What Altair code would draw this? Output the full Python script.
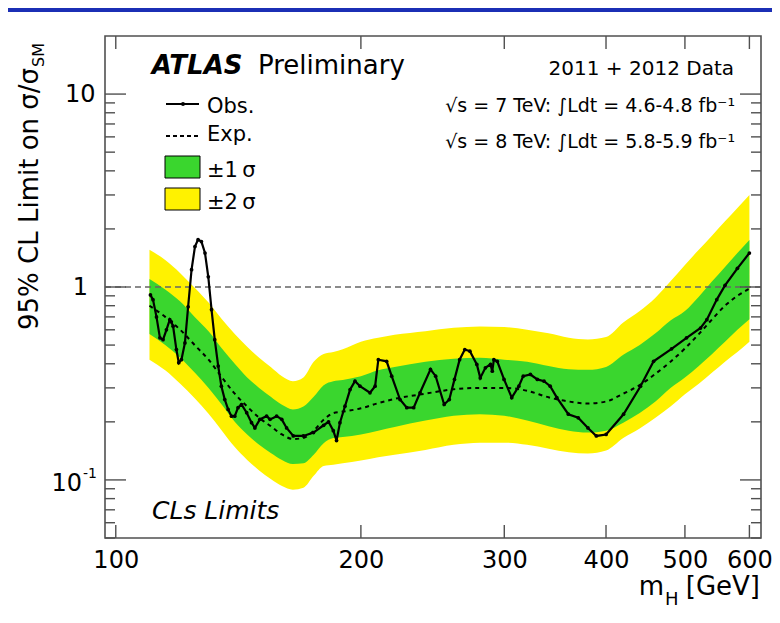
import altair as alt
import pandas as pd

# ---------------- data ----------------
mass = [110, 115, 120, 125, 130, 135, 140, 145, 150, 155, 160, 165, 170, 175, 180, 185, 190,
        200, 210, 220, 240, 260, 280, 300, 320, 340, 360, 380, 400, 420, 440, 460, 480, 500,
        520, 540, 560, 580, 600]
expected = [0.80, 0.70, 0.60, 0.50, 0.42, 0.34, 0.28, 0.24, 0.21, 0.19, 0.172, 0.163, 0.165, 0.18,
            0.205, 0.222, 0.226, 0.235, 0.25, 0.263, 0.28, 0.295, 0.30, 0.30, 0.29, 0.268, 0.255,
            0.249, 0.255, 0.28, 0.31, 0.355, 0.41, 0.48, 0.57, 0.68, 0.80, 0.90, 0.98]
green_lo = [0.57, 0.50, 0.43, 0.36, 0.30, 0.245, 0.20, 0.172, 0.152, 0.138, 0.127, 0.121, 0.122,
            0.135, 0.155, 0.165, 0.167, 0.172, 0.18, 0.188, 0.203, 0.215, 0.219, 0.215, 0.203, 0.19,
            0.18, 0.176, 0.18, 0.198, 0.222, 0.255, 0.30, 0.34, 0.39, 0.45, 0.52, 0.60, 0.68]
green_hi = [1.10, 0.97, 0.84, 0.70, 0.59, 0.48, 0.40, 0.34, 0.30, 0.27, 0.245, 0.232, 0.24, 0.27,
            0.31, 0.325, 0.33, 0.345, 0.37, 0.385, 0.41, 0.425, 0.43, 0.42, 0.41, 0.39, 0.375,
            0.372, 0.385, 0.445, 0.50, 0.575, 0.67, 0.75, 0.89, 1.07, 1.27, 1.50, 1.75]
yellow_lo = [0.42, 0.37, 0.315, 0.265, 0.22, 0.18, 0.148, 0.127, 0.112, 0.101, 0.093, 0.089, 0.091,
             0.105, 0.118, 0.12, 0.122, 0.126, 0.131, 0.135, 0.143, 0.152, 0.156, 0.156, 0.152,
             0.145, 0.139, 0.137, 0.142, 0.165, 0.185, 0.21, 0.24, 0.278, 0.315, 0.36, 0.41, 0.46,
             0.52]
yellow_hi = [1.56, 1.38, 1.18, 0.99, 0.83, 0.68, 0.57, 0.49, 0.43, 0.385, 0.345, 0.325, 0.34, 0.41,
             0.45, 0.46, 0.475, 0.52, 0.545, 0.565, 0.59, 0.615, 0.625, 0.62, 0.60, 0.575, 0.545,
             0.535, 0.55, 0.655, 0.75, 0.88, 1.07, 1.30, 1.56, 1.85, 2.19, 2.57, 3.0]

obs_mass = [110.3, 111.1, 112.2, 113.3, 114.3, 115.4, 116.5, 117.0, 117.6, 118.7, 119.5, 120.4,
            121.6, 122.7, 123.9, 125.1, 126.2, 127.4, 128.7, 129.9, 131.1, 132.3, 133.6, 134.8,
            136.1, 137.4, 138.7, 140.0, 141.3, 142.7, 144.8, 146.8, 148.2, 150.3, 153.2, 154.7,
            157.6, 159.9, 162.1, 165.2, 170.0, 174.9, 180.0, 182.5, 185.0, 186.7, 188.5, 191.2,
            194.0, 196.7, 199.5, 205.2, 208.2, 210.1, 215.1, 218.2, 223.4, 227.7, 232.2, 236.4,
            243.5, 247.1, 253.1, 256.8, 260.6, 264.4, 268.3, 272.2, 277.6, 280.3, 284.4, 288.5,
            290.0, 291.3, 294.1, 299.8, 306.4, 312.6, 316.5, 323.0, 329.4, 335.7, 341.6, 348.1,
            359.6, 369.8, 380.1, 389.2, 400.1, 420.3, 441.0, 457.6, 481.5, 502.3, 522.6, 532.0,
            547.1, 560.0, 580.0, 600.0]
obs_limit = [0.91, 0.86, 0.70, 0.545, 0.533, 0.60, 0.677, 0.66, 0.626, 0.474, 0.405, 0.42,
             0.513, 0.79, 1.23, 1.62, 1.76, 1.72, 1.50, 1.13, 0.763, 0.533, 0.389, 0.306,
             0.261, 0.232, 0.214, 0.214, 0.237, 0.246, 0.223, 0.198, 0.186, 0.206, 0.214, 0.206,
             0.214, 0.206, 0.186, 0.169, 0.169, 0.176, 0.192, 0.20, 0.18, 0.16, 0.198, 0.241,
             0.294, 0.325, 0.306, 0.283, 0.306, 0.42, 0.412, 0.345, 0.261, 0.237, 0.237, 0.283,
             0.374, 0.345, 0.246, 0.261, 0.332, 0.42, 0.474, 0.465, 0.397, 0.338, 0.381, 0.397,
             0.366, 0.42, 0.412, 0.332, 0.267, 0.306, 0.345, 0.352, 0.332, 0.325, 0.306, 0.267,
             0.219, 0.21, 0.186, 0.169, 0.172, 0.219, 0.306, 0.412, 0.478, 0.545, 0.613, 0.677,
             0.86, 1.02, 1.25, 1.50]

x_ticks = [100, 200, 300, 400, 500, 600]
y_major = [0.1, 1, 10]
y_minor = [0.05, 0.06, 0.07, 0.08, 0.09, 0.2, 0.3, 0.4, 0.5, 0.6, 0.7, 0.8, 0.9,
           2, 3, 4, 5, 6, 7, 8, 9]
y_labels = ["10", "1", "10"]     # 10^-1 shown as "10" + superscript "-1"
sm_line = [1.0]

# ---------------- layout ----------------
FONT = "DejaVu Sans"
W, H = 656, 502
X0, Y0 = 105, 36          # page position of plot-area origin
GREEN = "#3ad62e"
YELLOW = "#fff200"
FRAME = "#505050"


def px(x):
    return x - X0


def py(y):
    return y - Y0


band = pd.DataFrame(dict(m=mass, exp=expected, glo=green_lo, ghi=green_hi,
                         ylo=yellow_lo, yhi=yellow_hi))
obs = pd.DataFrame(dict(m=obs_mass, v=obs_limit))

xs = alt.Scale(type="log", domain=[97, 620], nice=False)
ys = alt.Scale(type="log", domain=[0.05, 20], nice=False)

x_axis = alt.Axis(values=x_ticks, ticks=False, tickSize=0, domain=False, grid=False,
                  labelFont=FONT, labelFontSize=24, labelColor="black", labelPadding=10,
                  title=None, format="d", labelFlush=False, labelOverlap=False)


def X(field):
    return alt.X(field, scale=xs, axis=x_axis)


def Y(field):
    return alt.Y(field, scale=ys, axis=None)


yellow = alt.Chart(band).mark_area(color=YELLOW, interpolate="monotone", opacity=1).encode(
    x=X("m:Q"), y=Y("ylo:Q"), y2="yhi:Q")
green = alt.Chart(band).mark_area(color=GREEN, interpolate="monotone", opacity=1).encode(
    x=X("m:Q"), y=Y("glo:Q"), y2="ghi:Q")
one_line = alt.Chart(pd.DataFrame({"v": sm_line})).mark_rule(
    color="#666666", strokeWidth=1.5, strokeDash=[6, 4]).encode(y=Y("v:Q"))
exp_line = alt.Chart(band).mark_line(color="black", strokeWidth=2, strokeDash=[4, 4],
                                     interpolate="monotone").encode(x=X("m:Q"), y=Y("exp:Q"))
obs_line = alt.Chart(obs).mark_line(color="black", strokeWidth=2.2).encode(
    x=X("m:Q"), y=Y("v:Q"))
obs_pts = alt.Chart(obs).mark_circle(color="black", size=14, opacity=1).encode(
    x=X("m:Q"), y=Y("v:Q"))


# inward ticks (ROOT style)
def yticks(vals, x1, x2):
    return alt.Chart(pd.DataFrame({"v": vals})).mark_rule(color=FRAME, strokeWidth=1.4).encode(
        y=Y("v:Q"), x=alt.value(x1), x2=alt.value(x2))


def xticks(vals, y1, y2):
    return alt.Chart(pd.DataFrame({"v": vals})).mark_rule(color=FRAME, strokeWidth=1.4).encode(
        x=X("v:Q"), y=alt.value(y1), y2=alt.value(y2))


ticks = [
    yticks(y_major, 0, 21), yticks(y_minor, 0, 10),
    yticks(y_major, W, W - 21), yticks(y_minor, W, W - 10),
    xticks(x_ticks, H, H - 13), xticks(x_ticks, 0, 13),
]


# y tick labels, placed through the y scale
def ylab(i, right_x, dy=0):
    d = pd.DataFrame({"v": [y_major[i]], "t": [y_labels[i]]})
    return alt.Chart(d).mark_text(align="right", baseline="middle", font=FONT, fontSize=24,
                                  color="black", dy=dy).encode(
        y=Y("v:Q"), x=alt.value(px(right_x)), text="t:N")


ylabels = [ylab(2, 95.5, 1), ylab(1, 88, 1), ylab(0, 82, 4)]


def txt(s, x, y, size, align="left", style="normal", weight="normal", angle=0, color="black"):
    return alt.Chart(pd.DataFrame({"t": [s]})).mark_text(
        align=align, baseline="alphabetic", font=FONT, fontSize=size, fontStyle=style,
        fontWeight=weight, angle=angle, color=color).encode(
        x=alt.value(px(x)), y=alt.value(py(y)), text="t:N")


def rule(x1, x2, y, dash=None, width=2):
    kw = dict(color="black", strokeWidth=width)
    if dash:
        kw["strokeDash"] = dash
    return alt.Chart(pd.DataFrame({"a": [0]})).mark_rule(**kw).encode(
        x=alt.value(px(x1)), x2=alt.value(px(x2)), y=alt.value(py(y)))


def box(x1, x2, y1, y2, fill):
    return alt.Chart(pd.DataFrame({"a": [0]})).mark_rect(
        fill=fill, stroke="black", strokeWidth=1).encode(
        x=alt.value(px(x1)), x2=alt.value(px(x2)), y=alt.value(py(y1)), y2=alt.value(py(y2)))


legend = [
    rule(166, 199, 104),
    alt.Chart(pd.DataFrame({"a": [0]})).mark_circle(color="black", size=16, opacity=1).encode(
        x=alt.value(px(183)), y=alt.value(py(104))),
    rule(166, 198, 136, dash=[4, 3], width=1.8),
    box(165, 200, 156, 178, GREEN),
    box(165, 200, 188, 210, YELLOW),
    txt("Obs.", 207, 112.5, 21),
    txt("Exp.", 207, 141, 21),
    txt("\u00b11\u2009\u03c3", 207, 177, 21),
    txt("\u00b12\u2009\u03c3", 207, 208.5, 21),
]

texts = [
    txt("ATLAS", 151.7, 74, 26, style="italic", weight="bold"),
    txt("Preliminary", 258, 74, 26),
    txt("2011 + 2012 Data", 734, 75, 20, align="right"),
    txt("\u221as = 7 TeV: \u222bLdt = 4.6-4.8 fb\u207b\u00b9", 735, 112, 19, align="right"),
    txt("\u221as = 8 TeV: \u222bLdt = 5.8-5.9 fb\u207b\u00b9", 735, 148, 19, align="right"),
    txt("CLs Limits", 152, 519, 25, style="italic"),
    # y-axis title (rotated) with subscript
    txt("95% CL Limit on \u03c3/\u03c3", 38, 330, 26, angle=270),
    txt("SM", 44, 67, 16, angle=270),
    # superscript of the 10^-1 label
    txt("-1", 83, 478, 14),
    # x-axis title with subscript
    txt("m", 664, 595, 26, align="right"),
    txt("H", 665, 605, 18),
    txt("[GeV]", 760, 595, 26, align="right"),
]

# slide chrome: blue bar at the top of the page
chrome = alt.Chart(pd.DataFrame({"a": [0]})).mark_rect(color="#1b2fb5").encode(
    x=alt.value(-X0 + 8), x2=alt.value(W + 11), y=alt.value(-Y0 + 8), y2=alt.value(-Y0 + 12))

chart = alt.layer(
    yellow, green, one_line, exp_line, obs_line, obs_pts, *ticks, *ylabels, *legend, *texts,
    chrome
).properties(
    width=W, height=H,
    autosize=alt.AutoSizeParams(type="none"),
    padding={"left": X0 - 8, "top": Y0 - 8, "right": 11, "bottom": 77},
    background="white",
).configure_view(stroke=FRAME, strokeWidth=1.6)

chart.save("out.html", embed_options={"renderer": "svg", "actions": False})
